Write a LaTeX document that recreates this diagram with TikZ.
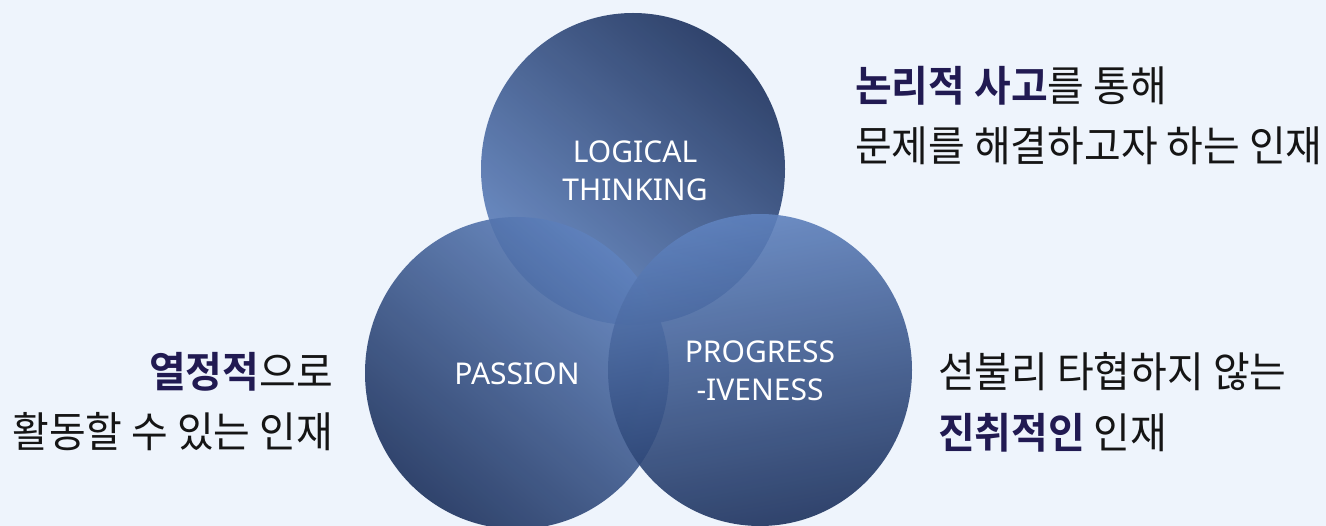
\documentclass[tikz,border=0pt]{standalone}
\usepackage{fontspec}
\newfontfamily\kr{Noto Sans CJK KR}[BoldFont={Noto Sans CJK KR Bold}]
\newfontfamily\lab{Noto Sans}
\definecolor{bg}{HTML}{EEF4FC}
\definecolor{navyD}{HTML}{1C315D}
\definecolor{navyM}{HTML}{2C4882}
\definecolor{navyL}{HTML}{5F82BE}
\definecolor{hl}{HTML}{211A52}
\definecolor{txt}{HTML}{151515}
\newcommand{\kx}[1]{\scalebox{0.95}[1]{#1}}
\newcommand{\hlt}[1]{{\bfseries\color{hl}#1}}
\begin{document}
\begin{tikzpicture}[x=1pt,y=-1pt,
  venn/.style={fill opacity=0.9},
  lbl/.style={text=white, font=\lab\fontsize{30}{38}\selectfont, align=center, inner sep=0pt},
  kor/.style={text=txt, font=\kr\fontsize{42}{48}\selectfont, inner sep=0pt}]
\fill[bg] (0,0) rectangle (1326,526);
\useasboundingbox (0,0) rectangle (1326,526);
% circles
\shade[venn, top color=navyD, middle color=navyM, bottom color=navyL, shading angle=-40]
  (633,169) ellipse [x radius=152, y radius=156];
\shade[venn, top color=navyL, middle color=navyM, bottom color=navyD, shading angle=-40]
  (517,373) ellipse [x radius=152, y radius=156];
\shade[venn, top color=navyL, middle color=navyM, bottom color=navyD, shading angle=10]
  (760,370) ellipse [x radius=152, y radius=156];
% circle labels
\node[lbl] (logic) at (635,171) {LOGICAL\\THINKING};
\node[lbl] (passion) at (517,374) {PASSION};
\node[lbl] (prog) at (760,371) {PROGRESS\\-IVENESS};
% texts
\node[kor, anchor=west] (tr1) at (855,86) {\kx{\hlt{논리적 사고}를 통해}};
\node[kor, anchor=west] (tr2) at (855,146) {\kx{문제를 해결하고자 하는 인재}};
\node[kor, anchor=east] (l1) at (333,372) {\kx{\hlt{열정적}으로}};
\node[kor, anchor=east] (l2) at (333,432) {\kx{활동할 수 있는 인재}};
\node[kor, anchor=west] (r1) at (938,372) {\kx{섣불리 타협하지 않는}};
\node[kor, anchor=west] (r2) at (938,433) {\kx{\hlt{진취적인} 인재}};
\end{tikzpicture}
\end{document}
